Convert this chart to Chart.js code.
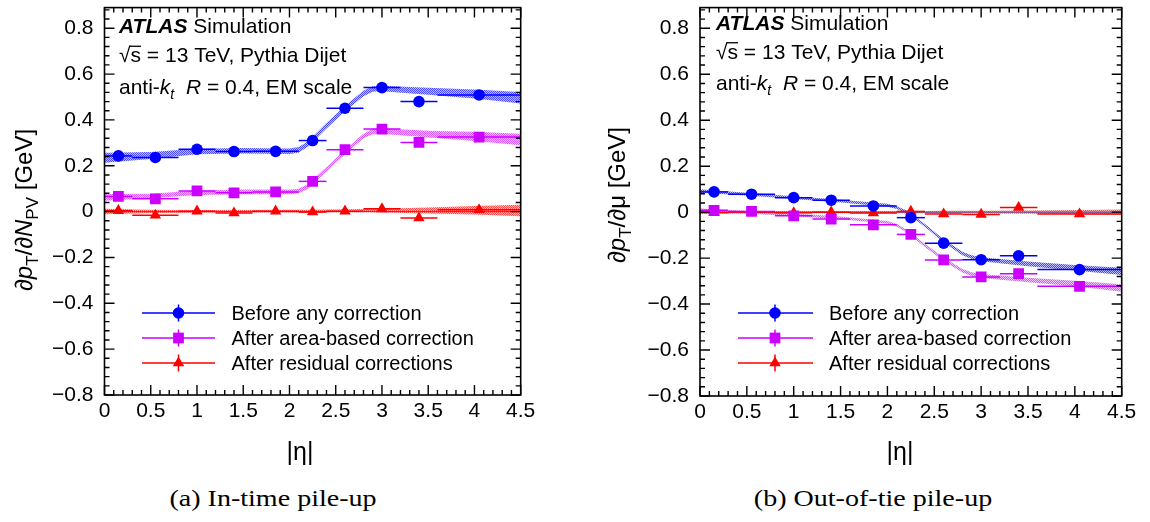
<!DOCTYPE html>
<html>
<head>
<meta charset="utf-8">
<script src="https://cdn.jsdelivr.net/npm/chart.js@4.4.0/dist/chart.umd.min.js"></script>
<style>
  body { margin: 0; background: #fff; width: 1150px; height: 522px; overflow: hidden; position: relative; }
  canvas { position: absolute; top: 0; }
  #cLeft { left: 0; }
  #cRight { left: 575px; }
  .cap { position: absolute; top: 484px; font-family: 'Liberation Serif', serif; font-size: 23px; line-height: 30px;
         white-space: nowrap; transform: translateX(-50%) scaleX(1.22); color: #000; }
</style>
</head>
<body>
<canvas id="cLeft" width="575" height="470"></canvas>
<canvas id="cRight" width="575" height="470"></canvas>
<div class="cap" style="left:273px">(a) In-time pile-up</div>
<div class="cap" style="left:873px">(b) Out-of-tie pile-up</div>
<script>
// |eta| bins and mean |eta| of the points
const binEdges = [0, 0.3, 0.8, 1.2, 1.6, 2.1, 2.4, 2.8, 3.2, 3.6, 4.5];
const etaPoints = [0.15, 0.55, 1.0, 1.4, 1.85, 2.25, 2.6, 3.0, 3.4, 4.05];
const seriesNames = ['Before any correction', 'After area-based correction', 'After residual corrections'];

// dpT/dNPV [GeV]
const npvBefore   = [0.243, 0.236, 0.272, 0.262, 0.263, 0.310, 0.451, 0.541, 0.480, 0.509];
const npvArea     = [0.066, 0.056, 0.090, 0.082, 0.086, 0.132, 0.270, 0.360, 0.302, 0.325];
const npvResidual = [0.004, -0.016, 0.002, -0.006, 0.002, -0.002, 0.002, 0.012, -0.028, 0.008];

// dpT/dmu [GeV]
const muBefore   = [0.088, 0.078, 0.063, 0.052, 0.027, -0.024, -0.135, -0.207, -0.190, -0.250];
const muArea     = [0.008, 0.003, -0.016, -0.030, -0.055, -0.097, -0.208, -0.282, -0.268, -0.323];
const muResidual = [-0.002, 0.000, -0.003, 0.000, -0.004, 0.003, -0.008, -0.010, 0.020, -0.008];

// fit uncertainty bands, sampled in |eta|
const bandEta = [0, 0.5, 1.0, 1.5, 2.0, 2.1, 2.2, 2.4, 2.6, 2.8, 2.9, 3.0, 3.5, 4.0, 4.5];
const npvBeforeLo   = [0.213, 0.230, 0.250, 0.253, 0.251, 0.258, 0.283, 0.363, 0.438, 0.503, 0.523, 0.525, 0.510, 0.493, 0.472];
const npvBeforeHi   = [0.257, 0.260, 0.274, 0.277, 0.275, 0.282, 0.307, 0.387, 0.462, 0.527, 0.547, 0.549, 0.540, 0.533, 0.522];
const npvAreaLo     = [0.047, 0.058, 0.072, 0.076, 0.076, 0.080, 0.100, 0.175, 0.250, 0.320, 0.338, 0.340, 0.323, 0.308, 0.290];
const npvAreaHi     = [0.077, 0.078, 0.092, 0.096, 0.096, 0.100, 0.120, 0.195, 0.270, 0.340, 0.362, 0.364, 0.353, 0.348, 0.340];
const npvResidualLo = [-0.012, -0.006, -0.005, -0.004, -0.004, -0.004, -0.004, -0.003, -0.003, -0.003, -0.003, -0.004, -0.008, -0.013, -0.020];
const npvResidualHi = [0.012, 0.008, 0.007, 0.007, 0.008, 0.008, 0.008, 0.009, 0.010, 0.011, 0.012, 0.013, 0.018, 0.024, 0.030];

const muBeforeLo   = [0.084, 0.072, 0.057, 0.042, 0.024, 0.014, -0.004, -0.064, -0.132, -0.188, -0.204, -0.214, -0.235, -0.254, -0.274];
const muBeforeHi   = [0.100, 0.084, 0.069, 0.054, 0.036, 0.026, 0.008, -0.052, -0.118, -0.172, -0.188, -0.196, -0.215, -0.230, -0.242];
const muAreaLo     = [0.000, -0.006, -0.018, -0.031, -0.051, -0.064, -0.086, -0.152, -0.213, -0.263, -0.278, -0.287, -0.305, -0.322, -0.346];
const muAreaHi     = [0.016, 0.006, -0.006, -0.019, -0.039, -0.052, -0.074, -0.138, -0.197, -0.247, -0.262, -0.269, -0.285, -0.298, -0.314];
const muResidualLo = [-0.008, -0.005, -0.005, -0.005, -0.005, -0.005, -0.005, -0.005, -0.006, -0.006, -0.006, -0.006, -0.007, -0.009, -0.011];
const muResidualHi = [0.008, 0.005, 0.005, 0.005, 0.005, 0.005, 0.005, 0.005, 0.006, 0.006, 0.006, 0.006, 0.007, 0.009, 0.011];

const FONT = "'Liberation Sans', Arial, sans-serif";
const seriesColors = ['#0000ff', '#cc00ff', '#ff0000'];
const bandColors = [[40, 40, 255], [210, 60, 255], [255, 40, 40]];
const markerStyles = ['circle', 'rect', 'triangle'];
const markerRadii = [5.8, 7.6, 6.6];

// small stipple tile, like ROOT's dotted fill style
function stipple(rgb) {
  const tile = document.createElement('canvas');
  tile.width = 2; tile.height = 2;
  const g = tile.getContext('2d');
  g.fillStyle = `rgba(${rgb[0]},${rgb[1]},${rgb[2]},0.85)`;
  g.fillRect(0, 0, 1, 1); g.fillRect(1, 1, 1, 1);
  g.fillStyle = `rgba(${rgb[0]},${rgb[1]},${rgb[2]},0.3)`;
  g.fillRect(1, 0, 1, 1); g.fillRect(0, 1, 1, 1);
  return g.createPattern(tile, 'repeat');
}

function fmt(v) {
  const r = Math.round(v * 10) / 10;
  if (r === 0) return '0';
  return (r < 0 ? '\u2212' : '') + String(Math.abs(r));
}

// text runs: [text, style, size, dy, overline]
function runFont(st, sz) {
  const w = st === 'bi' ? 'italic bold ' : st === 'i' ? 'italic ' : '';
  return w + sz + 'px ' + FONT;
}
function runsWidth(c, runs) {
  let w = 0;
  for (const r of runs) { c.font = runFont(r[1], r[2]); w += c.measureText(r[0]).width; }
  return w;
}
function drawRuns(c, x, y, runs) {
  let cx = x;
  for (const [t, st, sz, dy, over] of runs) {
    c.font = runFont(st, sz);
    c.fillText(t, cx, y + (dy || 0));
    const w = c.measureText(t).width;
    if (over) {
      c.fillRect(cx - 1, y - sz * 0.78, w + 1, 1.3);
    }
    cx += w;
  }
  return cx;
}

// no extra room for the end tick labels: the frame sits where it is told
function fixBox(sc, key, size) {
  sc[key] = size;
  sc.paddingTop = 0; sc.paddingBottom = 0; sc.paddingLeft = 0; sc.paddingRight = 0;
}

const errorBars = {
  id: 'errorBars',
  beforeDatasetDraw(chart, args) {
    const ds = chart.data.datasets[args.index];
    if (!ds.bins) return;
    const xs = chart.scales.x, ys = chart.scales.y, c = chart.ctx;
    c.save();
    c.strokeStyle = ds.pointBackgroundColor;
    c.lineWidth = 1.5;
    ds.data.forEach((pt, i) => {
      const py = ys.getPixelForValue(pt.y);
      c.beginPath();
      c.moveTo(xs.getPixelForValue(ds.bins[i]), py);
      c.lineTo(xs.getPixelForValue(ds.bins[i + 1]), py);
      c.stroke();
    });
    c.restore();
  }
};

function buildChart(canvasId, p) {
  const decor = {
    id: 'decor',
    beforeDatasetsDraw(chart) {
      // dark reference line at zero
      const xs = chart.scales.x, ys = chart.scales.y, c = chart.ctx;
      c.save();
      c.strokeStyle = '#2a2a9a';
      c.lineWidth = 1;
      c.beginPath();
      c.moveTo(xs.getPixelForValue(0), ys.getPixelForValue(0));
      c.lineTo(xs.getPixelForValue(4.5), ys.getPixelForValue(0));
      c.stroke();
      c.restore();
    },
    afterDatasetsDraw(chart) {
      const xs = chart.scales.x, ys = chart.scales.y, c = chart.ctx;
      const { left, right, top, bottom } = chart.chartArea;
      c.save();
      c.strokeStyle = '#000';
      c.lineWidth = 1.4;
      c.beginPath();
      for (let i = 0; i <= 45; i++) {
        const px = xs.getPixelForValue(i / 10);
        const len = i % 5 === 0 ? 10 : 5;
        c.moveTo(px, bottom); c.lineTo(px, bottom - len);
        c.moveTo(px, top); c.lineTo(px, top + len);
      }
      for (let i = -20; i <= 22; i++) {
        const py = ys.getPixelForValue(i * 0.04);
        const len = i % 5 === 0 ? 10 : 5;
        c.moveTo(left, py); c.lineTo(left + len, py);
        c.moveTo(right, py); c.lineTo(right - len, py);
      }
      c.stroke();
      c.lineWidth = 1.6;
      c.strokeRect(left, top, right - left, bottom - top);
      c.restore();
    },
    afterDraw(chart) {
      const c = chart.ctx;
      c.save();
      c.fillStyle = '#000';
      c.textBaseline = 'alphabetic';
      c.textAlign = 'left';

      // experiment label
      const s = 21;
      drawRuns(c, p.labelX, p.labelY[0], [['ATLAS', 'bi', s], [' Simulation', 'n', s]]);
      drawRuns(c, p.labelX, p.labelY[1], [['\u221A', 'n', s], ['s', 'n', s, 0, true], [' = 13 TeV, Pythia Dijet', 'n', s]]);
      drawRuns(c, p.labelX, p.labelY[2], [['anti-', 'n', s], ['k', 'i', s], ['t', 'i', 14, 5], ['  ', 'n', s], ['R', 'i', s], [' = 0.4, EM scale', 'n', s]]);

      // y-axis title, rotated
      c.save();
      c.translate(p.yTitleX, p.yTitleY);
      c.rotate(-Math.PI / 2);
      const w = runsWidth(c, p.yTitle);
      drawRuns(c, -w / 2, 0, p.yTitle);
      c.restore();

      // x-axis title
      c.font = '25px ' + FONT;
      c.textAlign = 'center';
      c.textBaseline = 'middle';
      c.fillText('|\u03B7|', p.xTitleX, 453);

      // legend
      c.textAlign = 'left';
      c.textBaseline = 'middle';
      c.font = '20px ' + FONT;
      seriesNames.forEach((name, k) => {
        const y = p.legendY[k];
        c.strokeStyle = seriesColors[k];
        c.fillStyle = seriesColors[k];
        c.lineWidth = 1.5;
        c.beginPath();
        c.moveTo(p.legendX[0], y); c.lineTo(p.legendX[1], y);
        c.moveTo(p.legendX[2], y - 8.5); c.lineTo(p.legendX[2], y + 8.5);
        c.stroke();
        Chart.helpers.drawPoint(c, { pointStyle: markerStyles[k], radius: markerRadii[k], rotation: 0, borderWidth: 0 }, p.legendX[2], y);
        c.fillStyle = '#000';
        c.fillText(name, p.legendX[3], y + 1);
      });
      c.restore();
    }
  };

  const datasets = [];
  p.series.forEach((sr, k) => {
    datasets.push({
      label: seriesNames[k],
      data: etaPoints.map((x, i) => ({ x, y: sr.values[i] })),
      showLine: false,
      pointStyle: markerStyles[k],
      pointRadius: markerRadii[k],
      pointBackgroundColor: seriesColors[k],
      pointBorderColor: seriesColors[k],
      pointBorderWidth: 0,
      bins: binEdges,
      order: 0
    });
  });
  p.series.forEach((sr, k) => {
    datasets.push({
      data: bandEta.map((x, i) => ({ x, y: sr.hi[i] })),
      borderColor: 'transparent', borderWidth: 0, pointRadius: 0, fill: false, order: 1
    });
    datasets.push({
      data: bandEta.map((x, i) => ({ x, y: sr.lo[i] })),
      borderColor: 'transparent', borderWidth: 0, pointRadius: 0,
      fill: '-1', backgroundColor: stipple(bandColors[k]), order: 1
    });
  });

  return new Chart(document.getElementById(canvasId).getContext('2d'), {
    type: 'line',
    data: { datasets },
    plugins: [errorBars, decor],
    options: {
      responsive: false,
      animation: false,
      events: [],
      layout: { padding: { left: 0, right: p.padRight, top: p.padTop, bottom: 0 } },
      plugins: { legend: { display: false }, tooltip: { enabled: false } },
      scales: {
        x: {
          type: 'linear', min: 0, max: 4.5,
          grid: { display: false, drawTicks: false }, border: { display: false },
          ticks: { stepSize: 0.5, autoSkip: false, maxRotation: 0, padding: 4, color: '#000',
                   font: { family: FONT, size: 21 }, callback: v => fmt(v) },
          afterFit: sc => fixBox(sc, 'height', p.xHeight)
        },
        y: {
          type: 'linear', min: -0.8, max: 0.89,
          grid: { display: false, drawTicks: false }, border: { display: false },
          ticks: { stepSize: 0.2, includeBounds: false, padding: 11, color: '#000',
                   font: { family: FONT, size: 21 }, callback: v => fmt(v) },
          afterFit: sc => fixBox(sc, 'width', p.yWidth)
        }
      }
    }
  });
}

buildChart('cLeft', {
  series: [
    { values: npvBefore, lo: npvBeforeLo, hi: npvBeforeHi },
    { values: npvArea, lo: npvAreaLo, hi: npvAreaHi },
    { values: npvResidual, lo: npvResidualLo, hi: npvResidualHi }
  ],
  yWidth: 104.5, padRight: 54.3, padTop: 4, xHeight: 75,
  labelX: 119, labelY: [33, 62, 94],
  yTitle: [['\u2202', 'n', 24], ['p', 'i', 24], ['T', 'n', 17, 6], ['/\u2202', 'n', 24], ['N', 'i', 24], ['PV', 'n', 17, 6], [' [GeV]', 'n', 24]],
  yTitleX: 32, yTitleY: 210,
  xTitleX: 300,
  legendX: [142, 215, 178.5, 231.5], legendY: [313, 338, 363]
});

buildChart('cRight', {
  series: [
    { values: muBefore, lo: muBeforeLo, hi: muBeforeHi },
    { values: muArea, lo: muAreaLo, hi: muAreaHi },
    { values: muResidual, lo: muResidualLo, hi: muResidualHi }
  ],
  yWidth: 125, padRight: 28.3, padTop: 3, xHeight: 74,
  labelX: 141, labelY: [29.5, 58.5, 89.5],
  yTitle: [['\u2202', 'n', 24], ['p', 'i', 24], ['T', 'n', 17, 6], ['/\u2202\u03BC', 'n', 24], [' [GeV]', 'n', 24]],
  yTitleX: 50, yTitleY: 195,
  xTitleX: 325,
  legendX: [163, 238, 200, 254], legendY: [313, 338, 363]
});
</script>
</body>
</html>
